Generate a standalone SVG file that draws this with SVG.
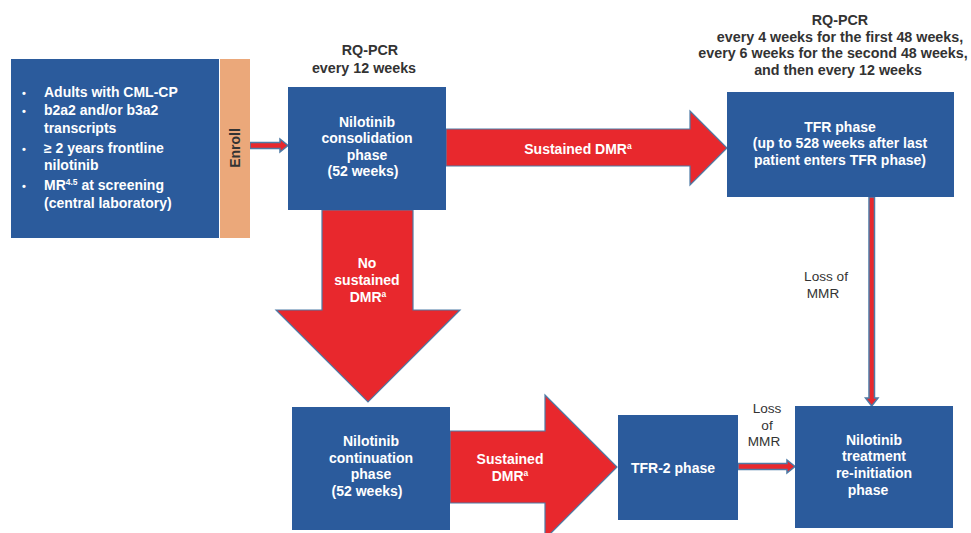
<svg xmlns="http://www.w3.org/2000/svg" width="971" height="533" viewBox="0 0 971 533">
<style>
.box{fill:#2B5B9C}
.big{fill:#E8282D;stroke:#4D7BA6;stroke-width:1.2}
.sm{fill:#E8282D;stroke:#4D7BA6;stroke-width:1.5}
.wt{font-family:"Liberation Sans",Arial,sans-serif;font-weight:bold;font-size:14px;fill:#FFFFFF;text-anchor:middle}
.wl{font-family:"Liberation Sans",Arial,sans-serif;font-weight:bold;font-size:14px;fill:#FFFFFF}
.bu{font-family:"Liberation Sans",Arial,sans-serif;font-weight:bold;font-size:11px;fill:#FFFFFF}
.hd{font-family:"Liberation Sans",Arial,sans-serif;font-weight:bold;font-size:14.3px;fill:#333333;text-anchor:middle}
.lb{font-family:"Liberation Sans",Arial,sans-serif;font-size:13.6px;fill:#333333;text-anchor:middle}
.sup{font-size:8.5px}
</style>
<rect width="971" height="533" fill="#FFFFFF"/>
<g id="connectors">
<path class="sm" d="M250,142.5 H280 V139 L288,145.5 L280,152 V148.5 H250 Z"/>
<path class="big" d="M446,129 H690 V111 L727,148 L690,185 V166 H446 Z"/>
<path class="big" d="M322,210 H413 V310 H460 L368,402 L276,310 H322 Z"/>
<path class="big" d="M450,431 H545 V395 L617,467 L545,539 V503 H450 Z"/>
<path class="sm" d="M738,463.5 H787 V460 L795,466.5 L787,473 V469.5 H738 Z"/>
<path class="sm" d="M869,197 H874.5 V398 H878 L871.7,406 L865.5,398 H869 Z"/>
</g>
<g id="inclusion">
<rect class="box" x="11" y="59" width="208" height="179"/>
<text class="bu" x="22" y="97">•</text>
<text class="wl" x="44" y="97">Adults with CML-CP</text>
<text class="bu" x="22" y="115">•</text>
<text class="wl" x="44" y="115">b2a2 and/or b3a2</text>
<text class="wl" x="44" y="133">transcripts</text>
<text class="bu" x="22" y="153">•</text>
<text class="wl" x="44" y="153">≥ 2 years frontline</text>
<text class="wl" x="44" y="170">nilotinib</text>
<text class="bu" x="22" y="190">•</text>
<text class="wl" x="44" y="190">MR<tspan class="sup" dy="-5">4.5</tspan><tspan dy="5"> at screening</tspan></text>
<text class="wl" x="44" y="208">(central laboratory)</text>
</g>
<g id="enroll">
<rect x="220" y="59" width="30" height="179" fill="#EBA87A"/>
<text transform="translate(240,148) rotate(-90)" font-family="Liberation Sans, Arial, sans-serif" font-weight="bold" font-size="14" fill="#333333" text-anchor="middle">Enroll</text>
</g>
<g id="consolidation">
<text class="hd" x="370" y="55">RQ-PCR</text>
<text class="hd" x="364" y="73">every 12 weeks</text>
<rect class="box" x="288" y="87" width="158" height="123"/>
<text class="wt" x="367" y="127">Nilotinib</text>
<text class="wt" x="367" y="143">consolidation</text>
<text class="wt" x="367" y="160">phase</text>
<text class="wt" x="363" y="176">(52 weeks)</text>
</g>
<g id="tfr">
<text class="hd" x="840" y="25">RQ-PCR</text>
<text class="hd" x="840" y="42">every 4 weeks for the first 48 weeks,</text>
<text class="hd" x="833" y="58">every 6 weeks for the second 48 weeks,</text>
<text class="hd" x="838" y="75">and then every 12 weeks</text>
<rect class="box" x="727" y="92" width="227" height="105"/>
<text class="wt" x="840" y="132">TFR phase</text>
<text class="wt" x="840" y="148">(up to 528 weeks after last</text>
<text class="wt" x="840" y="165">patient enters TFR phase)</text>
</g>
<g id="continuation">
<rect class="box" x="292" y="407" width="158" height="123"/>
<text class="wt" x="371" y="446">Nilotinib</text>
<text class="wt" x="371" y="463">continuation</text>
<text class="wt" x="371" y="479">phase</text>
<text class="wt" x="367" y="496">(52 weeks)</text>
</g>
<g id="tfr2">
<rect class="box" x="618" y="415" width="120" height="105"/>
<text class="wt" x="673" y="473">TFR-2 phase</text>
</g>
<g id="reinitiation">
<rect class="box" x="795" y="406" width="158" height="122"/>
<text class="wt" x="874" y="445">Nilotinib</text>
<text class="wt" x="874" y="461">treatment</text>
<text class="wt" x="874" y="478">re-initiation</text>
<text class="wt" x="868" y="495">phase</text>
</g>
<g id="labels">
<text class="wt" x="578" y="154">Sustained DMR<tspan class="sup" dy="-5">a</tspan></text>
<text class="wt" x="367" y="268">No</text>
<text class="wt" x="367" y="285">sustained</text>
<text class="wt" x="368" y="302">DMR<tspan class="sup" dy="-5">a</tspan></text>
<text class="wt" x="510" y="464">Sustained</text>
<text class="wt" x="510" y="481">DMR<tspan class="sup" dy="-5">a</tspan></text>
<text class="lb" x="826" y="281">Loss of</text>
<text class="lb" x="823" y="298">MMR</text>
<text class="lb" x="767" y="413">Loss</text>
<text class="lb" x="767" y="430">of</text>
<text class="lb" x="764" y="446">MMR</text>
</g>
</svg>
